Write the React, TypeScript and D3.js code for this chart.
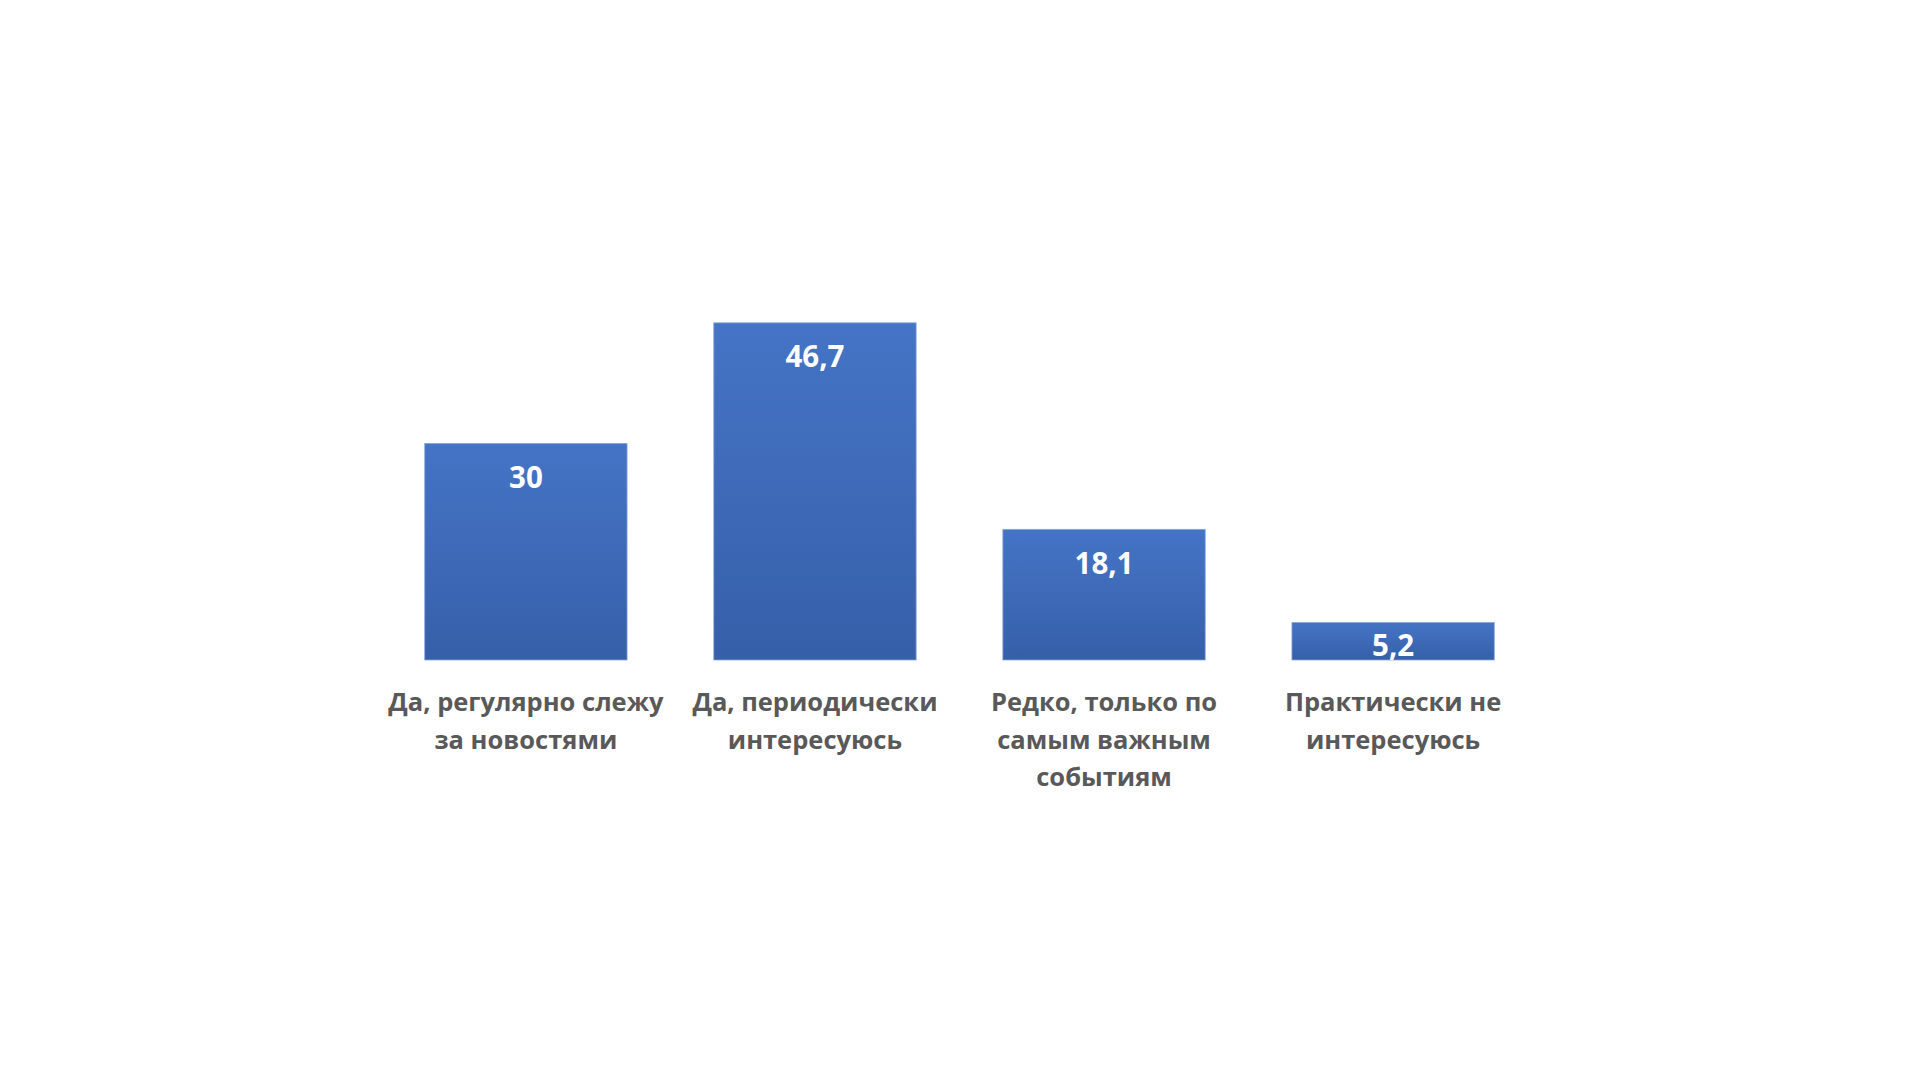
import { useRef, useEffect } from "react";
import * as d3 from "d3";

// category labels, already split into the lines shown under each bar
const categoryLines = [
  ["Да, регулярно слежу", "за новостями"],
  ["Да, периодически", "интересуюсь"],
  ["Редко, только по", "самым важным", "событиям"],
  ["Практически не", "интересуюсь"],
];
const values = [30, 46.7, 18.1, 5.2];

export default function App() {
  const ref = useRef<SVGSVGElement | null>(null);

  useEffect(() => {
    const svg = d3.select(ref.current);
    svg.selectAll("*").remove();

    const baseline = 660;
    const font = "'Open Sans', 'Noto Sans', sans-serif";
    const x = d3.scaleBand<number>()
      .domain(values.map((_, i) => i))
      .range([338, 1581])
      .paddingInner(0.3)
      .paddingOuter(0.3);
    const y = d3.scaleLinear().domain([0, 50]).range([baseline, 299]);

    const defs = svg.append("defs");
    const grad = defs.append("linearGradient")
      .attr("id", "barGrad")
      .attr("x1", 0).attr("y1", 0).attr("x2", 0).attr("y2", 1);
    grad.append("stop").attr("offset", "0%").attr("stop-color", "#4574C6");
    grad.append("stop").attr("offset", "100%").attr("stop-color", "#365FA9");

    svg.append("g")
      .selectAll("rect")
      .data(values)
      .join("rect")
      .attr("x", (_, i) => x(i)!)
      .attr("y", d => y(d))
      .attr("width", x.bandwidth())
      .attr("height", d => baseline - y(d))
      .attr("fill", "url(#barGrad)")
      .attr("stroke", "#8aa6da")
      .attr("stroke-width", 0.8);

    // value labels, inside end of each bar
    const vSize = 29.5;
    svg.append("g")
      .selectAll("text")
      .data(values)
      .join("text")
      .attr("x", (_, i) => x(i)! + x.bandwidth() / 2)
      .attr("y", d => Math.min(y(d) + 34, (y(d) + baseline) / 2 + 4) + 0.36 * vSize)
      .attr("text-anchor", "middle")
      .attr("fill", "#ffffff")
      .attr("font-family", font)
      .attr("font-weight", 700)
      .attr("font-size", vSize)
      .text(d => String(d).replace(".", ","));

    const labels = svg.append("g")
      .selectAll("text")
      .data(categoryLines)
      .join("text")
      .attr("text-anchor", "middle")
      .attr("fill", "#595959")
      .attr("font-family", font)
      .attr("font-weight", 700)
      .attr("font-size", 25.5);
    labels.selectAll("tspan")
      .data((d, i) => d.map(line => ({ line, i })))
      .join("tspan")
      .attr("x", d => x(d.i)! + x.bandwidth() / 2)
      .attr("y", (_, j) => 711 + j * 37.5)
      .text(d => d.line);
  }, []);

  return (
    <svg
      ref={ref}
      width={1920}
      height={1080}
      style={{ position: "absolute", left: 0, top: 0, background: "#ffffff" }}
    />
  );
}
